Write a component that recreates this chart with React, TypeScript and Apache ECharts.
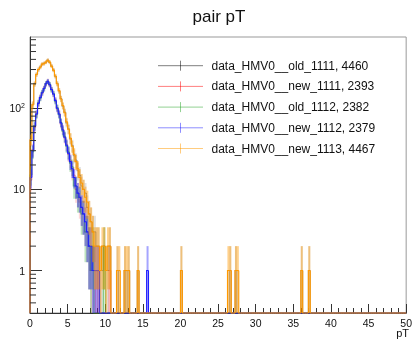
import React, { useEffect, useRef } from 'react';
import * as echarts from 'echarts';

const BIN_WIDTH = 0.25;
const N_BINS = 200;
const X_MIN = 0;
const X_MAX = 50;
const Y_MIN = 0.3;
const Y_MAX = 755;
const FONT = '"Liberation Sans", Arial, Helvetica, sans-serif';

const TITLE = 'pair pT';
const X_TITLE = 'pT';

const seriesNames = [
  'data_HMV0__old_1111, 4460',
  'data_HMV0__new_1111, 2393',
  'data_HMV0__old_1112, 2382',
  'data_HMV0__new_1112, 2379',
  'data_HMV0__new_1113, 4467',
];
const seriesColors = ['0,0,0', '255,0,0', '40,165,40', '30,30,255', '255,153,0'];
const stepAlpha = [0.35, 0.35, 0.6, 1, 1];
const errAlpha = [0.12, 0.15, 0.3, 0.4, 0.45];

// counts per 0.25-wide bin starting at pT = 0
const old1111Main = [40, 112, 198, 262, 298, 322, 348, 357, 368, 392, 366, 332, 297, 248, 203, 163, 132, 106, 90, 66, 56, 42, 35, 26, 23, 17, 15, 11, 10, 9, 6, 5, 4, 3, 3, 2, 2, 1, 1, 2, 1, 1, 2, 0, 0, 0];
const old1111Tail: [number, number][] = [[11.5, 1], [12.5, 1], [13.0, 1], [14.25, 1], [20.0, 1], [26.5, 1], [27.25, 1], [36.0, 1], [37.0, 1]];

const new1111Main = [13, 31, 58, 87, 113, 137, 152, 178, 198, 217, 193, 172, 148, 127, 98, 87, 64, 55, 43, 36, 27, 23, 17, 15, 10, 9, 7, 6, 5, 4, 3, 2, 1, 1, 1, 0, 1, 0, 0, 0, 0, 0, 0, 0, 0, 0];
const new1111Tail: [number, number][] = [[10.5, 1]];

const old1112Main = [15, 29, 61, 83, 117, 133, 157, 173, 202, 212, 197, 168, 152, 122, 102, 83, 67, 52, 45, 34, 29, 21, 19, 11, 11, 8, 8, 5, 5, 3, 3, 2, 1, 2, 0, 0, 0, 0, 0, 2, 0, 0, 0, 0, 0, 0];
const old1112Tail: [number, number][] = [];

const new1112Main = [14, 30, 60, 85, 115, 135, 155, 175, 200, 215, 195, 170, 150, 125, 100, 85, 66, 54, 44, 35, 28, 22, 18, 14, 11, 9, 8, 6, 5, 4, 3, 2, 2, 1, 1, 1, 1, 0, 0, 0, 0, 0, 0, 0, 0, 0];
const new1112Tail: [number, number][] = [[15.5, 1]];

const new1113Main = [41, 110, 200, 260, 300, 320, 350, 355, 370, 390, 370, 330, 295, 250, 200, 165, 130, 108, 88, 68, 55, 43, 34, 27, 22, 18, 14, 12, 10, 8, 7, 5, 4, 3, 2, 2, 2, 1, 2, 2, 1, 2, 2, 0, 0, 0];
const new1113Tail: [number, number][] = [[11.5, 1], [11.75, 1], [12.5, 1], [12.75, 1], [13.0, 1], [14.25, 1], [20.0, 1], [26.25, 1], [26.5, 1], [27.25, 1], [27.5, 1], [36.0, 1], [37.0, 1]];

const yMinorTicks = [0.4, 0.5, 0.6, 0.7, 0.8, 0.9, 2, 3, 4, 5, 6, 7, 8, 9, 20, 30, 40, 50, 60, 70, 80, 90, 200, 300, 400, 500, 600, 700];

function buildCounts(main: number[], tail: [number, number][]): number[] {
  const counts = new Array(N_BINS).fill(0);
  main.forEach((c, i) => { counts[i] = c; });
  tail.forEach(([pt, c]) => { counts[Math.round(pt / BIN_WIDTH)] = c; });
  return counts;
}

function makeHistSeries(name: string, color: string, sA: number, eA: number, counts: number[]) {
  const data = counts.map((c, i) => [i * BIN_WIDTH, (i + 1) * BIN_WIDTH, c, i > 0 ? counts[i - 1] : 0]);
  return {
    type: 'custom',
    name,
    data,
    encode: { x: [0, 1], y: 2 },
    renderItem: (params: any, api: any) => {
      const x0 = api.value(0);
      const x1 = api.value(1);
      const c = api.value(2);
      const prev = api.value(3);
      const yc = api.coord([x0, Math.max(c, Y_MIN)])[1];
      const yp = api.coord([x0, Math.max(prev, Y_MIN)])[1];
      const px0 = api.coord([x0, Y_MIN])[0];
      const px1 = api.coord([x1, Y_MIN])[0];
      const children: any[] = [];
      if (c > 0) {
        const e = Math.sqrt(c);
        const xm = (x0 + x1) / 2;
        const lo = api.coord([xm, Math.max(c - e, Y_MIN)]);
        const hi = api.coord([xm, c + e]);
        children.push({
          type: 'line',
          shape: { x1: lo[0], y1: lo[1], x2: hi[0], y2: hi[1] },
          style: { stroke: `rgba(${color},${eA})`, lineWidth: 2 },
        });
      }
      children.push({
        type: 'polyline',
        shape: { points: [[px0, yp], [px0, yc], [px1, yc]] },
        style: { stroke: `rgba(${color},${sA})`, fill: null, lineWidth: 1.1 },
      });
      return { type: 'group', children };
    },
  };
}

export default function App() {
  const ref = useRef<HTMLDivElement>(null);
  useEffect(() => {
    if (!ref.current) return;
    const chart = echarts.init(ref.current, undefined, { renderer: 'svg' });
    const all = [
      buildCounts(old1111Main, old1111Tail),
      buildCounts(new1111Main, new1111Tail),
      buildCounts(old1112Main, old1112Tail),
      buildCounts(new1112Main, new1112Tail),
      buildCounts(new1113Main, new1113Tail),
    ];
    const histSeries = all.map((counts, i) =>
      makeHistSeries(seriesNames[i], seriesColors[i], stepAlpha[i], errAlpha[i], counts)
    );

    const legendGraphics: any[] = [];
    seriesNames.forEach((name, i) => {
      const y = 65.7 + i * 20.7;
      legendGraphics.push({
        type: 'line',
        shape: { x1: 158, y1: y, x2: 203, y2: y },
        style: { stroke: `rgba(${seriesColors[i]},0.5)`, lineWidth: 1 },
      });
      legendGraphics.push({
        type: 'line',
        shape: { x1: 180.5, y1: y - 5, x2: 180.5, y2: y + 5 },
        style: { stroke: `rgba(${seriesColors[i]},0.5)`, lineWidth: 1 },
      });
      legendGraphics.push({
        type: 'text',
        x: 211.5,
        y,
        style: { text: name, font: `12px ${FONT}`, fill: '#111', align: 'left', verticalAlign: 'middle' },
      });
    });

    chart.setOption({
      animation: false,
      grid: { left: 30, right: 5, top: 37, bottom: 26, show: true, borderColor: '#999', borderWidth: 1 },
      xAxis: {
        type: 'value',
        min: X_MIN,
        max: X_MAX,
        interval: 5,
        axisLine: { show: true, lineStyle: { color: '#333', width: 1 } },
        axisTick: { show: true, inside: true, length: 9, lineStyle: { color: '#333' } },
        minorTick: { show: true, splitNumber: 5, length: 5, lineStyle: { color: '#333' } },
        splitLine: { show: false },
        minorSplitLine: { show: false },
        axisLabel: { fontSize: 10.5, fontFamily: FONT, color: '#111', margin: 4 },
      },
      yAxis: {
        type: 'log',
        logBase: 10,
        min: Y_MIN,
        max: Y_MAX,
        axisLine: { show: true, lineStyle: { color: '#333', width: 1 } },
        axisTick: { show: true, inside: true, length: 12, lineStyle: { color: '#333' } },
        splitLine: { show: false },
        axisLabel: {
          showMinLabel: false,
          showMaxLabel: false,
          margin: 5,
          fontSize: 10.5,
          fontFamily: FONT,
          color: '#111',
          formatter: (v: number) => {
            const l = Math.log10(v);
            const e = Math.round(l);
            if (Math.abs(l - e) > 0.01) return '';
            if (e === 0) return '1';
            if (e === 1) return '10';
            return '10{s|' + e + '}';
          },
          rich: { s: { fontSize: 7, fontFamily: FONT, color: '#111', padding: [0, 0, 6, 0] } },
        },
      },
      graphic: [
        {
          type: 'text',
          x: 219,
          y: 16,
          style: { text: TITLE, font: `17px ${FONT}`, fill: '#111', align: 'center', verticalAlign: 'middle' },
        },
        {
          type: 'text',
          x: 409,
          y: 333,
          style: { text: X_TITLE, font: `11px ${FONT}`, fill: '#111', align: 'right', verticalAlign: 'middle' },
        },
        ...legendGraphics,
      ],
      series: [
        ...histSeries,
        {
          type: 'custom',
          name: 'yMinorTicks',
          data: yMinorTicks.map((v) => [X_MIN, v]),
          encode: { x: 0, y: 1 },
          renderItem: (params: any, api: any) => {
            const p = api.coord([api.value(0), api.value(1)]);
            return {
              type: 'line',
              shape: { x1: p[0], y1: p[1], x2: p[0] + 6, y2: p[1] },
              style: { stroke: '#333', lineWidth: 1 },
            };
          },
        },
      ],
    });
    return () => chart.dispose();
  }, []);
  return <div ref={ref} style={{ position: 'fixed', left: 0, top: 0, width: 415, height: 339 }} />;
}
